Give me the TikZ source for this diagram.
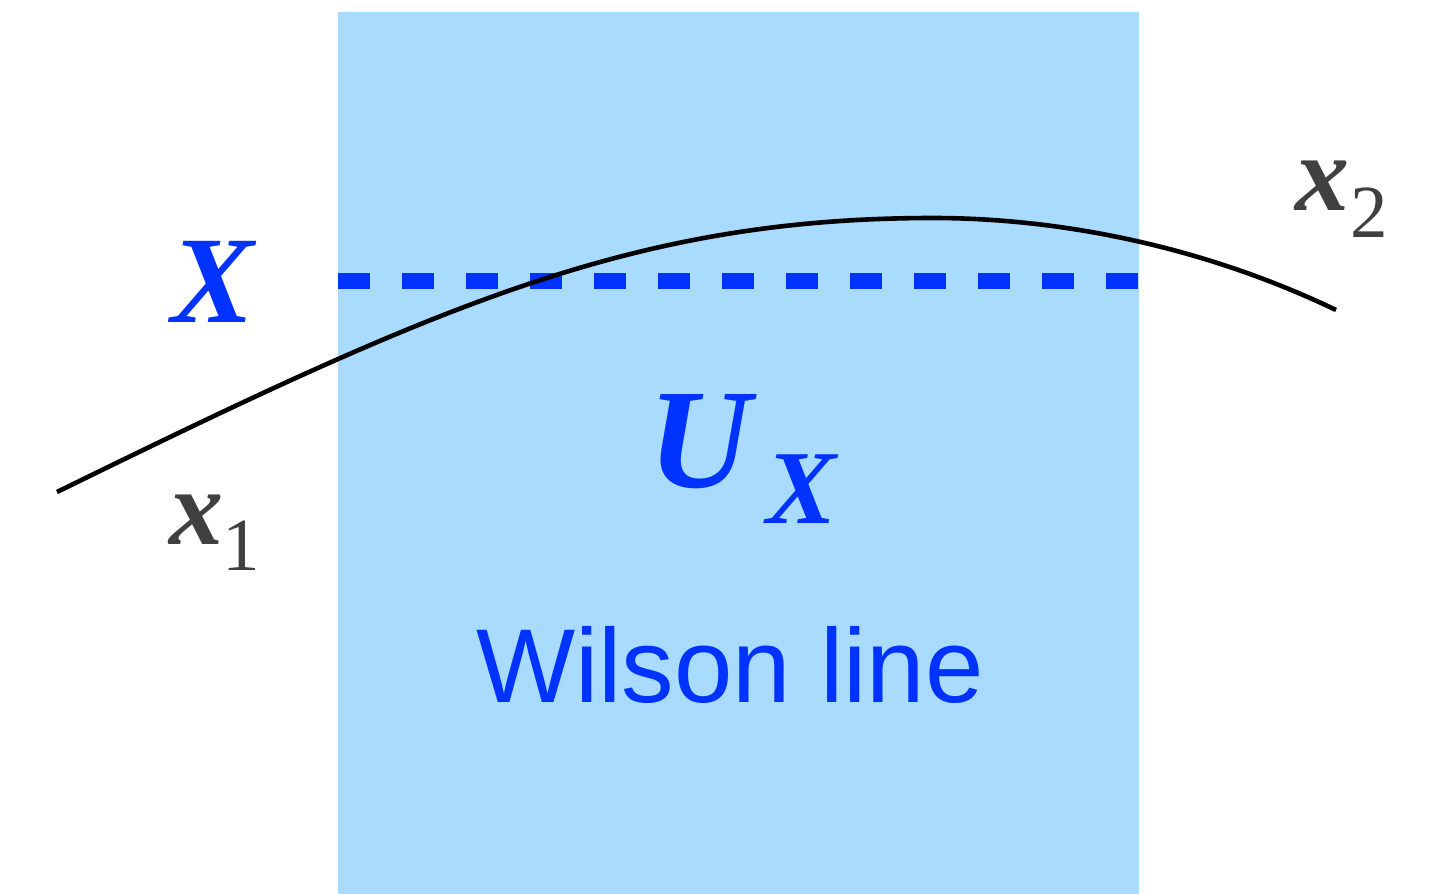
\documentclass[tikz,border=0pt]{standalone}
\usepackage{fontspec}
\setmainfont{Liberation Serif}
\newfontfamily\wsans{Liberation Sans}
\definecolor{wblue}{HTML}{0033FF}
\definecolor{wfill}{HTML}{A9DBFF}
\definecolor{lgray}{HTML}{404040}
\tikzset{
  lbl/.style={anchor=base, inner sep=0pt, outer sep=0pt},
  bigX/.style={lbl, text=wblue, font=\fontsize{124}{124}\selectfont\bfseries\itshape},
  bigU/.style={lbl, text=wblue, font=\fontsize{142}{142}\selectfont\bfseries\itshape},
  subX/.style={lbl, text=wblue, font=\fontsize{105}{105}\selectfont\bfseries\itshape},
  vecx/.style={lbl, text=lgray, font=\fontsize{108}{108}\selectfont\bfseries\itshape},
  subn/.style={lbl, text=lgray, font=\fontsize{75}{75}\selectfont},
  wil/.style={lbl, text=wblue, font=\fontsize{105}{105}\selectfont\wsans},
}
\begin{document}
\begin{tikzpicture}[x=1pt,y=-1pt]
\useasboundingbox (0,0) rectangle (1430,894);
\fill[wfill] (338,12) rectangle (1139,894);
\coordinate (dl) at (338,281);
\coordinate (dr) at (1138,281);
\draw[wblue, line width=16pt, dash pattern=on 32pt off 32pt] (dl) -- (dr);
\coordinate (c0) at (57,492);
\coordinate (cp) at (933,218);
\coordinate (c1) at (1336,310);
\draw[line width=4.6pt] (c0) .. controls (437,305.8) and (633,218) .. (cp)
   .. controls (1063,218) and (1206,247.6) .. (c1);
\node[bigX] (xl) at (213,322) {X};
\node[bigU] (u) at (700,487) {U};
\node[subX] (ux) at (802,523) {X};
\node[wil] (w) at (730,702) {Wilson line};
\node[vecx] (x1) at (196,544) {x};
\node[subn] (n1) at (241,570) {1};
\node[vecx] (x2) at (1322,210) {x};
\node[subn] (n2) at (1369,237) {2};
\end{tikzpicture}
\end{document}
